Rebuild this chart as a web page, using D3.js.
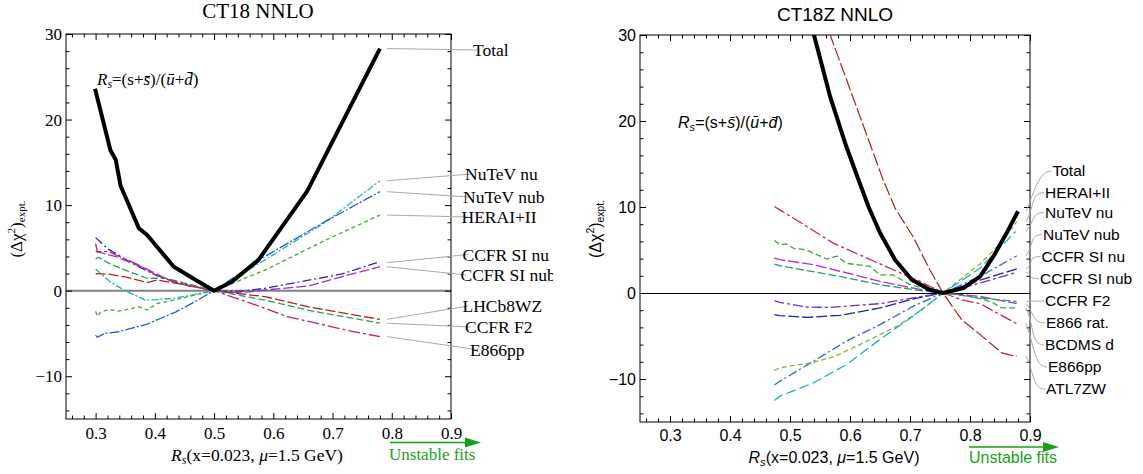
<!DOCTYPE html>
<html><head><meta charset="utf-8">
<script src="https://cdn.jsdelivr.net/npm/d3@7"></script>
<style>body{margin:0;background:#fff}svg{display:block}</style>
</head><body>
<svg id="chart" width="1143" height="474"></svg>
<script>
// ================= DATA =================
const xDomain = [0.25, 0.9];
const yDomain = [-15, 30];
const xTicks = [0.3, 0.4, 0.5, 0.6, 0.7, 0.8, 0.9];
const yTicks = [-10, 0, 10, 20, 30];
const xMinorTicks = d3.range(13, 45).filter(i => i % 5 !== 0).map(i => i * 0.02);
const yMinorTicks = d3.range(-7, 15).filter(i => i % 5 !== 0).map(i => i * 2);

const titles = ["CT18 NNLO", "CT18Z NNLO"];

// ---- CT18 NNLO (left) ----
const ct18Names = ["Total","NuTeV nu","NuTeV nub","HERAI+II","CCFR SI nu","CCFR SI nub","LHCb8WZ","CCFR F2","E866pp"];
const ct18Total = [[0.299,23.6],[0.325,16.4],[0.334,15.3],[0.342,12.3],[0.373,7.3],[0.387,6.5],[0.432,2.8],[0.469,1.25],[0.5,0],[0.53,1.05],[0.575,3.6],[0.657,11.6],[0.78,28.3]];
const ct18NuTeVnu = [[0.30,2.5],[0.325,1.0],[0.35,0],[0.384,-1.1],[0.40,-1.05],[0.432,-0.9],[0.47,-0.4],[0.5,0],[0.586,3.6],[0.688,8.0],[0.78,12.85]];
const ct18NuTeVnub = [[0.30,-5.2],[0.303,-5.45],[0.315,-5.0],[0.339,-4.8],[0.387,-3.9],[0.435,-2.5],[0.47,-1.2],[0.5,0],[0.586,4.0],[0.688,8.1],[0.78,11.57]];
const ct18HERA = [[0.30,-2.4],[0.303,-3.0],[0.3085,-2.5],[0.317,-2.3],[0.328,-2.25],[0.339,-2.4],[0.373,-1.9],[0.387,-2.25],[0.404,-1.5],[0.421,-1.28],[0.45,-0.8],[0.5,0],[0.586,2.4],[0.688,5.9],[0.78,8.84]];
const ct18CCFRnu = [[0.30,6.2],[0.32,4.9],[0.367,3.0],[0.401,1.83],[0.452,0.66],[0.5,0],[0.54,-0.1],[0.586,0.28],[0.662,1.25],[0.716,1.95],[0.775,3.27]];
const ct18CCFRnub = [[0.30,4.6],[0.334,3.97],[0.384,2.6],[0.429,1.05],[0.5,0],[0.53,-0.2],[0.56,-0.15],[0.586,0.08],[0.66,0.55],[0.716,1.64],[0.78,2.8]];
const ct18LHCb = [[0.30,2.0],[0.325,1.9],[0.35,1.6],[0.387,0.95],[0.404,1.25],[0.452,0.66],[0.5,0],[0.586,-0.7],[0.66,-1.9],[0.78,-3.35]];
const ct18CCFRF2 = [[0.30,3.7],[0.305,3.9],[0.3225,3.2],[0.35,2.4],[0.387,1.45],[0.418,1.45],[0.452,0.86],[0.5,0],[0.586,-1.1],[0.66,-2.3],[0.78,-3.8]];
const ct18E866pp = [[0.30,5.5],[0.303,4.56],[0.3225,4.56],[0.334,4.17],[0.367,3.2],[0.407,1.64],[0.45,0.7],[0.5,0],[0.586,-2.05],[0.623,-3.04],[0.66,-3.6],[0.727,-4.67],[0.78,-5.37]];

// ---- CT18Z NNLO (right) ----
const ct18zNames = ["Total","HERAI+II","NuTeV nu","NuTeV nub","CCFR SI nu","CCFR SI nub","CCFR F2","E866 rat.","BCDMS d","E866pp","ATL7ZW"];
const ct18zTotal = [[0.52,35.5],[0.54,30],[0.567,22.8],[0.594,17.0],[0.614,13.2],[0.631,10.0],[0.65,7.0],[0.675,3.87],[0.703,1.55],[0.733,0.38],[0.755,0],[0.789,0.58],[0.817,1.93],[0.839,4.25],[0.861,6.97],[0.88,9.5]];
const ct18zHERA = [[0.474,-9.0],[0.483,-8.7],[0.539,-8.06],[0.575,-7.36],[0.622,-5.8],[0.678,-3.87],[0.717,-2.1],[0.755,0],[0.817,3.4],[0.85,5.7],[0.878,8.3]];
const ct18zNuTeVnu = [[0.474,-12.5],[0.483,-12.0],[0.539,-10.45],[0.594,-8.33],[0.65,-5.4],[0.705,-2.7],[0.755,0],[0.817,2.9],[0.876,7.15]];
const ct18zNuTeVnub = [[0.474,-10.7],[0.483,-10.27],[0.539,-7.94],[0.594,-5.6],[0.65,-3.68],[0.705,-1.55],[0.755,0],[0.817,1.93],[0.878,4.33]];
const ct18zCCFRnu = [[0.474,-2.52],[0.483,-2.63],[0.53,-2.83],[0.583,-2.6],[0.65,-1.74],[0.705,-0.7],[0.755,0],[0.817,1.5],[0.878,2.8]];
const ct18zCCFRnub = [[0.474,-0.9],[0.483,-1.09],[0.528,-1.63],[0.567,-1.67],[0.65,-1.24],[0.705,-0.58],[0.755,0],[0.817,1.16],[0.878,2.4]];
const ct18zCCFRF2 = [[0.474,3.37],[0.483,3.17],[0.583,1.93],[0.65,0.96],[0.71,0.35],[0.755,0],[0.817,-0.58],[0.878,-1.0]];
const ct18zE866rat = [[0.474,4.06],[0.483,3.87],[0.539,3.3],[0.585,2.5],[0.65,1.35],[0.71,0.5],[0.755,0],[0.817,-0.4],[0.878,-1.24]];
const ct18zBCDMS = [[0.474,6.1],[0.483,5.6],[0.494,5.7],[0.506,5.2],[0.528,5.0],[0.561,3.95],[0.578,4.3],[0.594,3.45],[0.633,3.1],[0.65,2.1],[0.672,2.1],[0.70,0.96],[0.755,0],[0.786,-0.2],[0.82,-0.7],[0.839,-1.16],[0.853,-1.74],[0.878,-1.74]];
const ct18zE866pp = [[0.474,10.06],[0.483,9.67],[0.528,7.74],[0.572,5.8],[0.622,4.25],[0.672,2.7],[0.717,1.35],[0.755,0],[0.786,-0.78],[0.817,-1.24],[0.839,-2.1],[0.878,-3.57]];
const ct18zATL7ZW = [[0.54,35.5],[0.567,30],[0.622,19.5],[0.655,13.2],[0.675,9.87],[0.705,6.57],[0.733,2.7],[0.755,0],[0.786,-3.1],[0.817,-4.84],[0.853,-6.97],[0.866,-7.2],[0.878,-7.36]];

// ================= STYLES / LAYOUT =================
const serif = "'Liberation Serif', 'Times New Roman', serif";
const sans = "'Liberation Sans', Arial, sans-serif";
const green = "#19a019";

const panels = [
  {
    title: titles[0], font: serif, tickFs: 17, labelFs: 17.5,
    xRange: [66, 451], yRange: [419, 34], clip: [0, 553],
    zeroColor: "#808080", zeroW: 2, zeroCrisp: false,
    series: [
      {name: ct18Names[1], data: ct18NuTeVnu, color: "#1eb4c0", dash: "7,2,2,2", w: 1.3},
      {name: ct18Names[2], data: ct18NuTeVnub, color: "#2a5ad2", dash: "10,2,2,2", w: 1.3},
      {name: ct18Names[3], data: ct18HERA, color: "#3cb02a", dash: "4,3", w: 1.3},
      {name: ct18Names[4], data: ct18CCFRnu, color: "#3a22b8", dash: "9,3,2,3", w: 1.3},
      {name: ct18Names[5], data: ct18CCFRnub, color: "#9a2fc8", dash: "10,3", w: 1.3},
      {name: ct18Names[6], data: ct18LHCb, color: "#c01c1c", dash: "10,3", w: 1.3},
      {name: ct18Names[7], data: ct18CCFRF2, color: "#1fa060", dash: "7,3", w: 1.3},
      {name: ct18Names[8], data: ct18E866pp, color: "#c0207a", dash: "12,3,3,3", w: 1.3},
      {name: ct18Names[0], data: ct18Total, color: "#000", dash: null, w: 4}
    ],
    labels: {"Total":[473,50],"NuTeV nu":[465,174],"NuTeV nub":[463,197],"HERAI+II":[461.5,217],
             "CCFR SI nu":[462.5,254.5],"CCFR SI nub":[460.5,275],"LHCb8WZ":[462.5,306],"CCFR F2":[465,327],"E866pp":[470,349.5]},
    leaderStartX: 387, curvedLeaders: false,
    titlePos: [258, 18], titleFs: 21,
    formulaPos: [97, 85], formulaFs: 17,
    ylabPos: [22, 229], ylabFs: 17,
    xlabPos: [257, 461], xlabFs: 17.5,
    arrow: {x0: 390, x1: 481, y: 442.5, tx: 389, ty: 459.5, fs: 17},
    tickPadX: 8, tickPadY: 4
  },
  {
    title: titles[1], font: sans, tickFs: 16, labelFs: 15.5,
    xRange: [640, 1030], yRange: [422, 35], clip: [560, 1132],
    zeroColor: "#000", zeroW: 1, zeroCrisp: true,
    series: [
      {name: ct18zNames[10], data: ct18zATL7ZW, color: "#b41818", dash: "13,3", w: 1.2},
      {name: ct18zNames[9], data: ct18zE866pp, color: "#c0207a", dash: "12,3,3,3", w: 1.3},
      {name: ct18zNames[8], data: ct18zBCDMS, color: "#38a838", dash: "6,3", w: 1.3},
      {name: ct18zNames[7], data: ct18zE866rat, color: "#b030c0", dash: "11,3", w: 1.3},
      {name: ct18zNames[6], data: ct18zCCFRF2, color: "#20a070", dash: "8,3", w: 1.3},
      {name: ct18zNames[4], data: ct18zCCFRnu, color: "#2222a8", dash: "11,3", w: 1.3},
      {name: ct18zNames[5], data: ct18zCCFRnub, color: "#7a2cc8", dash: "10,3,3,3", w: 1.3},
      {name: ct18zNames[3], data: ct18zNuTeVnub, color: "#2a6ad2", dash: "9,3,2,3", w: 1.3},
      {name: ct18zNames[1], data: ct18zHERA, color: "#84b828", dash: "5,3", w: 1.3},
      {name: ct18zNames[2], data: ct18zNuTeVnu, color: "#20b0c0", dash: "10,4", w: 1.3},
      {name: ct18zNames[0], data: ct18zTotal, color: "#000", dash: null, w: 4}
    ],
    labels: {"Total":[1052.5,171],"HERAI+II":[1045,192.5],"NuTeV nu":[1045,212.5],"NuTeV nub":[1043,234.5],
             "CCFR SI nu":[1041.5,256.5],"CCFR SI nub":[1040,278.5],"CCFR F2":[1045,301],"E866 rat.":[1046,323],
             "BCDMS d":[1045,345],"E866pp":[1048,367],"ATL7ZW":[1046,389]},
    leaderStartX: 1026, curvedLeaders: true,
    titlePos: [835, 21], titleFs: 19,
    formulaPos: [678, 128], formulaFs: 16,
    ylabPos: [601, 229], ylabFs: 16,
    xlabPos: [834, 463], xlabFs: 16,
    arrow: {x0: 969, x1: 1059, y: 447, tx: 969, ty: 463, fs: 16},
    tickPadX: 8, tickPadY: 4
  }
];

// ================= DRAW =================
const svg = d3.select("#chart");
const defs = svg.append("defs");

panels.forEach((p, pi) => {
  const x = d3.scaleLinear().domain(xDomain).range(p.xRange);
  const y = d3.scaleLinear().domain(yDomain).range(p.yRange);
  const [x0, x1] = p.xRange, [yb, yt] = p.yRange;

  defs.append("clipPath").attr("id", "pclip" + pi).append("rect")
    .attr("x", p.clip[0]).attr("y", 0).attr("width", p.clip[1] - p.clip[0]).attr("height", 474);
  defs.append("clipPath").attr("id", "plot" + pi).append("rect")
    .attr("x", x0).attr("y", yt).attr("width", x1 - x0).attr("height", yb - yt);

  const g = svg.append("g").attr("clip-path", `url(#pclip${pi})`)
    .style("font-family", p.font);

  // zero line
  g.append("line").attr("x1", x0).attr("x2", x1).attr("y1", y(0)).attr("y2", y(0))
    .attr("stroke", p.zeroColor).attr("stroke-width", p.zeroW)
    .attr("shape-rendering", p.zeroCrisp ? "crispEdges" : null);

  // axes
  const fmtX = d3.format(".1f"), fmtY = d3.format("d");
  const styleAxis = sel => {
    sel.attr("font-family", null);
    sel.select(".domain").remove();
    sel.selectAll(".tick line").attr("stroke", "#000").attr("stroke-width", 1);
    sel.selectAll("text").style("font-family", p.font).attr("font-size", p.tickFs).attr("fill", "#000");
  };
  g.append("g").attr("transform", `translate(0,${yb})`)
    .call(d3.axisBottom(x).tickValues(xTicks).tickFormat(fmtX).tickSizeInner(-6).tickSizeOuter(0).tickPadding(p.tickPadX)).call(styleAxis);
  g.append("g").attr("transform", `translate(0,${yb})`)
    .call(d3.axisBottom(x).tickValues(xMinorTicks).tickFormat("").tickSizeInner(-3.5).tickSizeOuter(0)).call(styleAxis);
  g.append("g").attr("transform", `translate(0,${yt})`)
    .call(d3.axisTop(x).tickValues(xTicks).tickFormat("").tickSizeInner(-6).tickSizeOuter(0)).call(styleAxis);
  g.append("g").attr("transform", `translate(0,${yt})`)
    .call(d3.axisTop(x).tickValues(xMinorTicks).tickFormat("").tickSizeInner(-3.5).tickSizeOuter(0)).call(styleAxis);
  g.append("g").attr("transform", `translate(${x0},0)`)
    .call(d3.axisLeft(y).tickValues(yTicks).tickFormat(fmtY).tickSizeInner(-6).tickSizeOuter(0).tickPadding(p.tickPadY)).call(styleAxis);
  g.append("g").attr("transform", `translate(${x0},0)`)
    .call(d3.axisLeft(y).tickValues(yMinorTicks).tickFormat("").tickSizeInner(-3.5).tickSizeOuter(0)).call(styleAxis);
  g.append("g").attr("transform", `translate(${x1},0)`)
    .call(d3.axisRight(y).tickValues(yTicks).tickFormat("").tickSizeInner(-6).tickSizeOuter(0)).call(styleAxis);
  g.append("g").attr("transform", `translate(${x1},0)`)
    .call(d3.axisRight(y).tickValues(yMinorTicks).tickFormat("").tickSizeInner(-3.5).tickSizeOuter(0)).call(styleAxis);
  g.append("rect").attr("x", x0).attr("y", yt).attr("width", x1 - x0).attr("height", yb - yt)
    .attr("fill", "none").attr("stroke", "#000").attr("stroke-width", 1);

  // curves
  const line = d3.line().x(d => x(d[0])).y(d => y(d[1]));
  const cg = g.append("g").attr("clip-path", `url(#plot${pi})`);
  p.series.forEach(s => {
    cg.append("path").attr("d", line(s.data)).attr("fill", "none")
      .attr("stroke", s.color).attr("stroke-width", s.w)
      .attr("stroke-dasharray", s.dash).attr("stroke-linejoin", "round");
  });

  // leaders + labels
  p.series.forEach(s => {
    const last = s.data[s.data.length - 1];
    const sx = p.leaderStartX, sy = y(last[1]);
    const [lx, ly] = p.labels[s.name];
    if (p.curvedLeaders) {
      g.append("path").attr("d", `M${sx},${sy} C${sx + 8},${sy - (sy - ly) * 0.45} ${lx - 14},${ly} ${lx - 1},${ly}`)
        .attr("fill", "none").attr("stroke", "#a8a8a8").attr("stroke-width", 1);
    } else {
      g.append("line").attr("x1", sx).attr("y1", sy).attr("x2", lx + 6).attr("y2", ly)
        .attr("stroke", "#a8a8a8").attr("stroke-width", 1);
    }
    g.append("text").attr("x", lx).attr("y", ly).attr("dy", "0.35em")
      .attr("font-size", p.labelFs).attr("fill", "#000").text(s.name);
  });

  // title
  g.append("text").attr("x", p.titlePos[0]).attr("y", p.titlePos[1]).attr("text-anchor", "middle")
    .attr("font-size", p.titleFs).text(p.title);

  // formula R_s = (s+s̄)/(ū+d̄)
  const f = g.append("text").attr("x", p.formulaPos[0]).attr("y", p.formulaPos[1]).attr("font-size", p.formulaFs);
  f.append("tspan").attr("font-style", "italic").text("R");
  f.append("tspan").attr("font-style", "italic").attr("font-size", p.formulaFs * 0.7).attr("dy", 3).text("s");
  f.append("tspan").attr("dy", -3).text("=(s+");
  f.append("tspan").attr("font-style", "italic").text("s\u0304");
  f.append("tspan").text(")/(");
  f.append("tspan").attr("font-style", "italic").text("u\u0304");
  f.append("tspan").text("+");
  f.append("tspan").attr("font-style", "italic").text("d\u0304");
  f.append("tspan").text(")");

  // y label
  const yl = g.append("text").attr("transform", `translate(${p.ylabPos[0]},${p.ylabPos[1]}) rotate(-90)`)
    .attr("text-anchor", "middle").attr("font-size", p.ylabFs);
  yl.append("tspan").text("(\u0394\u03c7");
  yl.append("tspan").attr("font-size", p.ylabFs * 0.65).attr("dy", -7).text("2");
  yl.append("tspan").attr("dy", 7).text(")");
  yl.append("tspan").attr("font-size", p.ylabFs * 0.65).attr("dy", 3).text("expt.");

  // x label
  const xl = g.append("text").attr("x", p.xlabPos[0]).attr("y", p.xlabPos[1]).attr("text-anchor", "middle")
    .attr("font-size", p.xlabFs);
  xl.append("tspan").attr("font-style", "italic").text("R");
  xl.append("tspan").attr("font-style", "italic").attr("font-size", p.xlabFs * 0.7).attr("dy", 3).text("s");
  xl.append("tspan").attr("dy", -3).text("(x=0.023, ");
  xl.append("tspan").attr("font-style", "italic").text("\u03bc");
  xl.append("tspan").text("=1.5 GeV)");

  // unstable fits arrow
  const a = p.arrow;
  g.append("line").attr("x1", a.x0).attr("x2", a.x1 - 12).attr("y1", a.y).attr("y2", a.y)
    .attr("stroke", green).attr("stroke-width", 1.6);
  g.append("path").attr("d", `M${a.x1 - 16},${a.y - 5} L${a.x1},${a.y} L${a.x1 - 16},${a.y + 5} Z`).attr("fill", green);
  g.append("text").attr("x", a.tx).attr("y", a.ty).attr("font-size", a.fs).attr("fill", green).text("Unstable fits");
});
</script>
</body></html>
